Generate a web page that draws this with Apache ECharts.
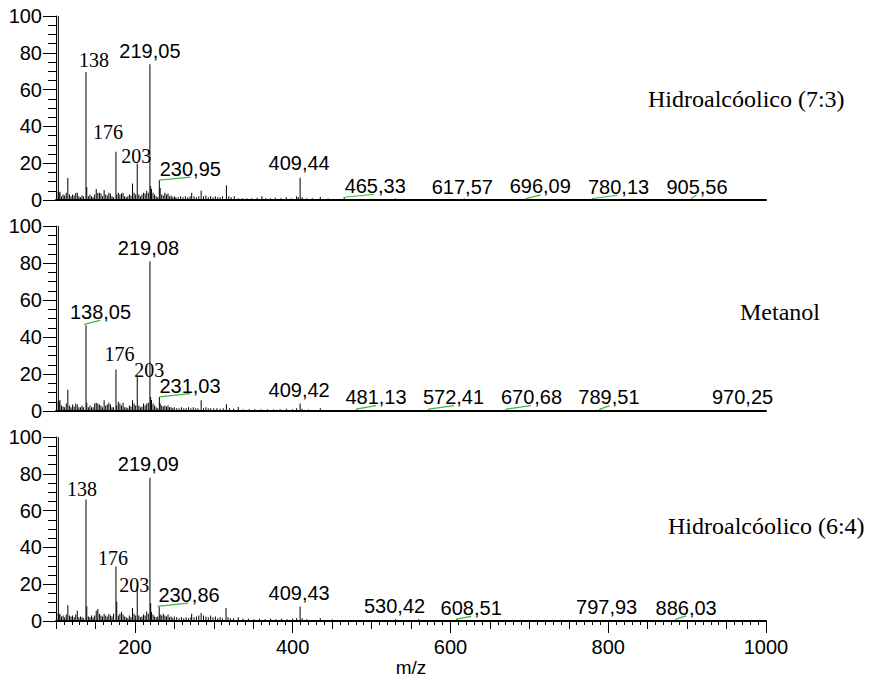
<!DOCTYPE html>
<html>
<head>
<meta charset="utf-8">
<script src="https://cdn.jsdelivr.net/npm/echarts@6/dist/echarts.min.js"></script>
<style>
  html, body { margin: 0; padding: 0; background: #fff; }
  #chart { width: 869px; height: 686px; }
</style>
</head>
<body>
<div id="chart"></div>
<script>
// Mass spectra of three extracts: [m/z, relative intensity %]
const hidro73Peaks = [
  [101,4.5],[103,100],[104,4],[105,4.5],[107,2],[109,3],[111,2.5],[113,4],[115,12],[117,3],
  [119,2],[121,3],[123,2.5],[125,4],[127,4],[129,2],[131,1.5],[133,2.5],[135,2],[138,69.6],
  [139,7],[141,2],[143,3],[145,2],[147,1.5],[149,3],[151,6],[153,4],[155,4],[157,3.5],
  [159,2],[161,5.5],[163,3],[165,2.5],[167,4],[169,3.5],[171,2],[173,1.5],[176,26.2],[177,3],
  [179,4],[181,3],[183,3.5],[185,4],[187,2],[189,1.5],[191,2],[193,3],[195,2.5],[197,9],
  [199,4],[201,3],[203,19.9],[205,3],[207,2],[209,3],[211,4],[213,3.5],[215,5],[217,4],
  [219.05,73.8],[220,7.5],[221,6],[223,4],[225,3],[227,2],[229,1.5],[230.95,10.8],[232,6.5],[234,3],
  [236,2.5],[238,4],[240,3],[242,3.5],[244,2],[246,2.5],[248,1.5],[250,2],[252,1.5],[255,1.5],
  [258,2],[261,1.5],[264,2],[267,1.5],[270,2],[272,4],[275,2],[278,1.5],[281,2],[284,5],
  [287,2],[290,2.5],[293,1.5],[296,2],[299,1.5],[302,2],[305,1.5],[308,1.5],[311,2],[316,8],
  [319,2],[322,1.5],[326,2],[331,1],[336,1],[342,1],[348,1],[355,1.2],[361,2],[366,1],
  [372,1],[378,1.2],[385,1],[392,1.5],[398,1],[405,2],[407,1.5],[409.44,12.1],[412,1.5],[418,1],
  [425,1],[435,1.8],[445,0.8],[465.33,1.5],[530,0.8],[617.57,0.8],[696.09,0.6],[780.13,0.8],[905.56,0.8]
];
const metanolPeaks = [
  [101,5.5],[103,100],[104,5],[105,6],[107,3],[109,2.5],[111,2],[113,4],[115,11.5],[117,3],
  [119,2],[121,3.5],[123,2.5],[125,4],[127,3.5],[129,2],[131,2],[133,3],[135,2],[138.05,46.3],
  [139,4.5],[141,2],[143,3],[145,2],[147,2],[149,4],[151,4.5],[153,4],[155,3.5],[157,3],
  [159,2],[161,5.8],[163,3],[165,3.5],[167,4.5],[169,3.5],[171,2],[173,2],[176,22.5],[177,3],
  [179,5],[181,4],[183,3],[185,4.5],[187,2],[189,2],[191,1.5],[193,3],[195,2.5],[197,5.8],
  [199,4],[201,3],[203,18.8],[205,3],[207,2],[209,2.5],[211,4],[213,3],[215,4],[217,4.5],
  [219.08,81],[220,7.6],[221,6],[223,4],[225,3],[227,2],[229,1.5],[231.03,7.6],[232,4],[234,3],
  [236,2.5],[238,3],[240,2.5],[242,3],[244,2],[246,2],[248,1.5],[250,2],[253,1.5],[256,1.5],
  [259,2],[262,1.5],[265,1.5],[268,2],[271,1.5],[274,2],[277,1.5],[280,1.5],[284,5.8],[287,1.5],
  [290,2],[293,1.5],[296,1.5],[300,1.5],[304,1.5],[308,1.2],[312,1.5],[316,3.6],[320,1.5],[325,1.2],
  [331,2.2],[337,1],[345,1],[352,1],[360,1],[368,1],[376,1],[384,1],[392,1.2],[400,1],
  [405,1.5],[409.42,4],[412,1.2],[420,0.8],[435,1.5],[450,0.6],[481.13,1],[572.41,1],[670.68,1],[789.51,1],
  [970.25,0.5]
];
const hidro64Peaks = [
  [101,4.3],[103,100],[104,3.5],[105,4],[107,2.5],[109,3],[111,2],[113,3.5],[115,8.5],[117,3],
  [119,2.5],[121,3],[123,2],[125,3.5],[127,5.6],[129,2],[131,2.5],[133,2],[135,1.5],[138,66.1],
  [139,8],[141,2.5],[143,2],[145,3],[147,2],[149,3],[151,5.6],[153,6.5],[155,4],[157,3],
  [159,2.5],[161,4],[163,3],[165,2.5],[167,4],[169,3],[171,2.5],[173,4],[176,29.6],[177,10.6],
  [179,3],[181,4],[183,5],[185,3.5],[187,2.5],[189,2],[191,1.5],[193,3],[195,2],[197,7],
  [199,4],[201,3],[203,19],[205,3],[207,2],[209,2.5],[211,3.5],[213,3],[215,5.2],[217,4],
  [219.09,77.8],[220,9.7],[221,5],[223,3.5],[225,2.5],[227,2],[229,2.5],[230.86,7.9],[232,3.5],[234,3],
  [236,4],[238,3],[240,2.5],[242,3.5],[244,2],[246,2.5],[248,1.5],[250,2.5],[253,2],[256,1.5],
  [259,2],[262,1.5],[265,2],[268,1.5],[271,2],[272,4],[275,2],[278,2.5],[281,3],[284,4.3],
  [287,3],[290,2.5],[293,2],[296,3],[299,2],[302,2.5],[305,1.5],[308,2],[311,1.5],[315.5,7],
  [318,2],[321,1.5],[325,1.5],[331,2],[337,1.2],[344,1.2],[351,1],[358,1.2],[365,1],[372,1.2],
  [379,1],[386,1.2],[393,1],[400,1.2],[405,1.5],[409.43,7.9],[412,1.5],[418,1],[435,1.5],[450,0.8],
  [500,0.6],[530.42,1],[560,1],[608.51,1],[700,0.5],[797.93,0.5],[886.03,1]
];

// Annotated peaks (text as printed, decimal comma)
const hidro73Labels = ['138','176','203','219,05','230,95','409,44','465,33','617,57','696,09','780,13','905,56'];
const metanolLabels = ['138,05','176','203','219,08','231,03','409,42','481,13','572,41','670,68','789,51','970,25'];
const hidro64Labels = ['138','176','203','219,09','230,86','409,43','530,42','608,51','797,93','886,03'];

const panelTitles = ['Hidroalcóolico (7:3)', 'Metanol', 'Hidroalcóolico (6:4)'];

// x-axis tick labels
const mzTickLabels = [200, 400, 600, 800, 1000];
const intensityRange = [0, 100];
const mzRange = [100, 1000];

// Placement of each annotation relative to its peak top (px): label centre, serif flag, green leader
const hidro73Place = [
  { dx: 8, dy: -12, serif: true },
  { dx: -8, dy: -20, serif: true },
  { dx: -1, dy: -7, serif: true },
  { dx: 0, dy: -13 },
  { dx: 31, dy: -11.5, lead: [0, 0, 31, -3] },
  { dx: -1, dy: -14.5 },
  { dx: 31, dy: -11, lead: [0, 0, 30, -3] },
  { dx: -2, dy: -12 },
  { dx: 14, dy: -13, lead: [-1, 0, 14.5, -4] },
  { dx: 26, dy: -12, lead: [0, 0, 25, -3.3] },
  { dx: 5.5, dy: -12, lead: [0, -0.5, 5, -3.2] }
];
const metanolPlace = [
  { dx: 14.5, dy: -13, lead: [-2, -1, 14, -5] },
  { dx: 3.5, dy: -15.5, serif: true },
  { dx: 12, dy: -6, serif: true },
  { dx: -1.5, dy: -13.5 },
  { dx: 30.6, dy: -11.2, lead: [0, 0, 30.6, -3.4] },
  { dx: -1, dy: -13.3 },
  { dx: 19.3, dy: -12.2, lead: [-0.7, 0, 19.3, -3.6] },
  { dx: 24.8, dy: -12.2, lead: [0, 0, 25.3, -3.6] },
  { dx: 25.3, dy: -12.2, lead: [0, 0, 24.5, -3.6] },
  { dx: 9, dy: -12.2, lead: [0, 0, 9.5, -3.3] },
  { dx: 0, dy: -13 }
];
const hidro64Place = [
  { dx: -4, dy: -10, serif: true },
  { dx: -3, dy: -9, serif: true },
  { dx: -3, dy: -1, serif: true },
  { dx: -1.6, dy: -13.7 },
  { dx: 29.8, dy: -11.7, lead: [-2, 0, 29, -3.4] },
  { dx: -1, dy: -13 },
  { dx: -1, dy: -13.5 },
  { dx: 14, dy: -11.5, lead: [-1, 0, 14, -2.8] },
  { dx: 0, dy: -13.5 },
  { dx: 10, dy: -10.7, lead: [0, 0, 10, -3.3] }
];

const SANS = '"Liberation Sans", Arial, sans-serif';
const SERIF = '"Liberation Serif", "Times New Roman", serif';
const LEAD_COLOR = '#3dbb3d';

const panels = [
  { peaks: hidro73Peaks, labels: hidro73Labels, place: hidro73Place, top: 16, height: 184, title: { x: 648, y: 100 } },
  { peaks: metanolPeaks, labels: metanolLabels, place: metanolPlace, top: 226, height: 185, title: { x: 740, y: 313 } },
  { peaks: hidro64Peaks, labels: hidro64Labels, place: hidro64Place, top: 437, height: 184, title: { x: 668, y: 527 } }
];

// Resolve each annotation to the peak it names
function labelledPoints(peaks, labels) {
  return labels.map(function (txt) {
    const mz = parseFloat(txt.replace(',', '.'));
    const hit = peaks.find(function (p) { return Math.abs(p[0] - mz) < 1e-6; });
    return [mz, hit ? hit[1] : 0];
  });
}

function labelRenderer(panel) {
  return function (params, api) {
    const i = params.dataIndex;
    const pt = api.coord([api.value(0), api.value(1)]);
    const pl = panel.place[i];
    const children = [];
    if (pl.lead) {
      children.push({
        type: 'line',
        shape: { x1: pt[0] + pl.lead[0], y1: pt[1] + pl.lead[1], x2: pt[0] + pl.lead[2], y2: pt[1] + pl.lead[3] },
        style: { stroke: LEAD_COLOR, lineWidth: 1.2 }
      });
    }
    children.push({
      type: 'text',
      x: pt[0] + pl.dx,
      y: pt[1] + pl.dy,
      style: {
        text: panel.labels[i],
        fill: '#000',
        fontSize: 20,
        fontFamily: pl.serif ? SERIF : SANS,
        align: 'center',
        verticalAlign: 'middle'
      }
    });
    return { type: 'group', children: children };
  };
}

const grids = [], xAxes = [], yAxes = [], series = [], graphics = [];

panels.forEach(function (p, k) {
  grids.push({ left: 56, width: 710, top: p.top, height: p.height });
  const isBottom = k === panels.length - 1;

  // x axis: fine ticks every 10 on the bottom panel, plain baseline otherwise
  xAxes.push({
    type: 'value', gridIndex: k, position: 'bottom', offset: 0,
    min: mzRange[0], max: mzRange[1], interval: 10,
    axisLine: { show: true, onZero: false, lineStyle: { color: '#000', width: 2 } },
    axisTick: { show: isBottom, length: 4, lineStyle: { color: '#000', width: 1 } },
    axisLabel: { show: false },
    splitLine: { show: false }
  });
  yAxes.push({
    type: 'value', gridIndex: k, position: 'left',
    min: intensityRange[0], max: intensityRange[1], interval: 20,
    axisLine: { show: true, onZero: false, lineStyle: { color: '#000', width: 1 } },
    axisTick: { show: true, length: 13, lineStyle: { color: '#000', width: 1 } },
    minorTick: { show: true, splitNumber: 4, length: 8, lineStyle: { color: '#000', width: 1 } },
    axisLabel: { show: true, fontSize: 20, fontFamily: SANS, color: '#000', margin: 14 },
    splitLine: { show: false }
  });

  series.push({
    type: 'bar', xAxisIndex: k, yAxisIndex: k,
    data: p.peaks, barWidth: 1, barGap: '-100%',
    itemStyle: { color: '#000' }, silent: true, animation: false
  });
  series.push({
    type: 'custom', xAxisIndex: k, yAxisIndex: k,
    data: labelledPoints(p.peaks, p.labels),
    renderItem: labelRenderer(p), clip: false, z: 5, silent: true, animation: false
  });

  graphics.push({
    type: 'text', left: p.title.x, top: p.title.y - 13,
    style: { text: panelTitles[k], fontSize: 24, fontFamily: SERIF, fill: '#000' }
  });
});

// Bottom panel: medium ticks every 50 and long labelled ticks at 200-unit steps
const bottom = panels.length - 1;
xAxes.push({
  type: 'value', gridIndex: bottom, position: 'bottom', offset: 0,
  min: mzRange[0], max: mzRange[1], interval: 50,
  axisLine: { show: false, onZero: false },
  axisTick: { show: true, length: 8, lineStyle: { color: '#000', width: 1 } },
  axisLabel: { show: false }, splitLine: { show: false }
});
xAxes.push({
  type: 'value', gridIndex: bottom, position: 'bottom', offset: 0,
  min: mzRange[0], max: mzRange[1],
  name: 'm/z', nameLocation: 'middle', nameGap: 36,
  nameTextStyle: { fontSize: 19, fontFamily: SANS, color: '#000' },
  axisLine: { show: false, onZero: false },
  axisTick: { show: true, length: 12, customValues: mzTickLabels, lineStyle: { color: '#000', width: 1 } },
  axisLabel: {
    show: true, customValues: mzTickLabels, fontSize: 20, fontFamily: SANS, color: '#000', margin: 16,
    formatter: function (v) { return String(v); }
  },
  splitLine: { show: false }
});

const chart = echarts.init(document.getElementById('chart'), null, { renderer: 'svg' });
chart.setOption({
  animation: false,
  backgroundColor: '#fff',
  grid: grids,
  xAxis: xAxes,
  yAxis: yAxes,
  series: series,
  graphic: graphics
});
</script>
</body>
</html>
